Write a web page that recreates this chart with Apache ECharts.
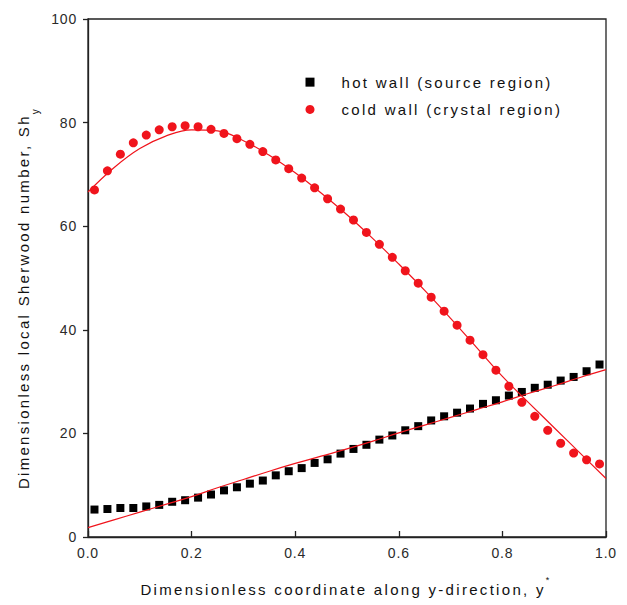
<!DOCTYPE html>
<html>
<head>
<meta charset="utf-8">
<script src="https://cdn.jsdelivr.net/npm/echarts@6/dist/echarts.min.js"></script>
<style>
  html, body { margin: 0; padding: 0; background: #fff; }
  #chart { width: 627px; height: 605px; }
  /* widely tracked lettering for titles and legend, slight tracking for tick labels */
  #chart text[style*="Liberation"], #chart text[font-family*="Liberation"] { letter-spacing: 2.3px; }
  #chart text[style*="Arial"], #chart text[font-family*="Arial"] { letter-spacing: 0.8px; }
</style>
</head>
<body>
<div id="chart"></div>
<script>
// Sample positions along the wall (dimensionless y*)
const positions = [
  0.0125, 0.0375, 0.0625, 0.0875, 0.1125, 0.1375, 0.1625, 0.1875, 0.2125, 0.2375,
  0.2625, 0.2875, 0.3125, 0.3375, 0.3625, 0.3875, 0.4125, 0.4375, 0.4625, 0.4875,
  0.5125, 0.5375, 0.5625, 0.5875, 0.6125, 0.6375, 0.6625, 0.6875, 0.7125, 0.7375,
  0.7625, 0.7875, 0.8125, 0.8375, 0.8625, 0.8875, 0.9125, 0.9375, 0.9625, 0.9875
];

// Local Sherwood number on the hot wall (source region)
const hotWall = [
  5.3, 5.4, 5.6, 5.6, 5.9, 6.2, 6.8, 7.1, 7.6, 8.2,
  9.0, 9.6, 10.3, 10.9, 11.9, 12.7, 13.3, 14.3, 15.0, 16.1,
  17.0, 17.8, 18.8, 19.6, 20.6, 21.4, 22.5, 23.3, 24.0, 24.8,
  25.7, 26.4, 27.3, 28.0, 28.8, 29.4, 30.2, 30.9, 32.0, 33.3
];

// Local Sherwood number on the cold wall (crystal region)
const coldWall = [
  67.0, 70.7, 73.9, 76.1, 77.6, 78.6, 79.2, 79.4, 79.2, 78.7,
  77.9, 76.9, 75.8, 74.4, 72.8, 71.1, 69.3, 67.4, 65.3, 63.3,
  61.2, 58.8, 56.5, 54.0, 51.4, 49.0, 46.3, 43.6, 40.9, 38.0,
  35.2, 32.2, 29.1, 26.0, 23.3, 20.6, 18.1, 16.2, 14.9, 14.1
];

// Correlation curves
const fitPositions = [
  0.00, 0.05, 0.10, 0.15, 0.20, 0.25, 0.30, 0.35, 0.40, 0.45, 0.50,
  0.55, 0.60, 0.65, 0.70, 0.75, 0.80, 0.85, 0.90, 0.95, 1.00
];
const hotFit = [
  1.8, 3.3, 4.8, 6.3, 7.8, 9.5, 11.1, 12.7, 14.2, 15.6, 17.0,
  18.5, 20.1, 21.6, 23.1, 24.6, 26.1, 27.7, 29.2, 30.8, 32.3
];
const coldFit = [
  66.6, 71.3, 75.0, 77.4, 78.6, 78.4, 76.5, 73.7, 70.3, 66.4, 62.2,
  57.6, 52.7, 47.6, 42.2, 36.6, 31.0, 26.0, 21.1, 16.2, 11.3
];

const hotName = 'hot wall (source region)';
const coldName = 'cold wall (crystal region)';
const xTitle = 'Dimensionless coordinate along y-direction, y';
const yTitle = 'Dimensionless local Sherwood number, Sh';

const RED = '#f0141c';
const INK = '#111';
const AXIS = '#222';

// Text measurement that includes the letter tracking applied in the stylesheet
const TRACKING = [['Liberation Sans', 2.3], ['Arial', 0.8]];
const measureCtx = document.createElement('canvas').getContext('2d');
if (echarts.setPlatformAPI) {
  echarts.setPlatformAPI({
    measureText(text, font) {
      measureCtx.font = font || '12px sans-serif';
      const m = measureCtx.measureText(text);
      let extra = 0;
      for (const [fam, sp] of TRACKING) {
        if ((font || '').indexOf(fam) >= 0) { extra = sp * text.length; break; }
      }
      return {
        width: m.width + extra,
        actualBoundingBoxAscent: m.actualBoundingBoxAscent,
        actualBoundingBoxDescent: m.actualBoundingBoxDescent,
        actualBoundingBoxLeft: m.actualBoundingBoxLeft,
        actualBoundingBoxRight: m.actualBoundingBoxRight + extra,
        fontBoundingBoxAscent: m.fontBoundingBoxAscent,
        fontBoundingBoxDescent: m.fontBoundingBoxDescent
      };
    }
  });
}

const chart = echarts.init(document.getElementById('chart'), null, { renderer: 'svg' });

const axisLine = { show: true, onZero: false, lineStyle: { color: AXIS, width: 1.3 } };
const tickLabel = { fontFamily: 'Arial', fontSize: 14, color: '#2a2a2a' };

chart.setOption({
  animation: false,
  backgroundColor: '#fff',
  grid: {
    left: 88, right: 21, top: 19, bottom: 68,
    show: true, borderColor: AXIS, borderWidth: 1.3, backgroundColor: 'transparent'
  },
  xAxis: {
    type: 'value', min: 0, max: 1, interval: 0.2,
    axisLine: axisLine,
    axisTick: { show: true, inside: true, length: 6, lineStyle: { color: AXIS, width: 1.3 } },
    axisLabel: Object.assign({ margin: 9, formatter: v => v.toFixed(1) }, tickLabel),
    splitLine: { show: false }
  },
  yAxis: {
    type: 'value', min: 0, max: 100, interval: 20,
    axisLine: axisLine,
    axisTick: { show: true, inside: false, length: 5, lineStyle: { color: AXIS, width: 1.3 } },
    axisLabel: Object.assign({ margin: 11 }, tickLabel),
    splitLine: { show: false }
  },
  legend: {
    orient: 'vertical',
    left: 305.5, top: 73.5, padding: 0, itemGap: 10,
    itemWidth: 9, itemHeight: 9,
    selectedMode: false,
    data: [{ name: hotName, icon: 'rect' }, { name: coldName, icon: 'circle' }],
    formatter: n => '{g| }{t|' + n + '}',
    textStyle: {
      fontFamily: 'Liberation Sans', fontSize: 15, color: INK,
      rich: {
        g: { width: 22, lineHeight: 15, fontFamily: 'Liberation Sans', fontSize: 15 },
        t: { lineHeight: 15, fontFamily: 'Liberation Sans', fontSize: 15, color: INK }
      }
    }
  },
  graphic: [
    {
      type: 'text', x: 346, y: 589, silent: true,
      style: {
        text: '{m|' + xTitle + '}{s|*}',
        align: 'center', verticalAlign: 'middle',
        rich: {
          m: { fontFamily: 'Liberation Sans', fontSize: 15, fill: INK, lineHeight: 29 },
          s: { fontFamily: 'Liberation Sans', fontSize: 9, fill: INK, lineHeight: 9, verticalAlign: 'top' }
        }
      }
    },
    {
      type: 'text', x: 23, y: 298, rotation: Math.PI / 2, silent: true,
      style: {
        text: '{m|' + yTitle + '}{s|y}',
        align: 'center', verticalAlign: 'middle',
        rich: {
          m: { fontFamily: 'Liberation Sans', fontSize: 15, fill: INK, lineHeight: 37 },
          s: { fontFamily: 'Liberation Sans', fontSize: 10, fill: INK, lineHeight: 10, verticalAlign: 'bottom' }
        }
      }
    }
  ],
  series: [
    {
      name: hotName, type: 'scatter', symbol: 'rect', symbolSize: 8, z: 2,
      itemStyle: { color: '#000', opacity: 1 },
      data: positions.map((x, i) => [x, hotWall[i]])
    },
    {
      name: coldName, type: 'scatter', symbol: 'circle', symbolSize: 9, z: 2,
      itemStyle: { color: RED, opacity: 1 },
      data: positions.map((x, i) => [x, coldWall[i]])
    },
    {
      name: 'hot wall fit', type: 'line', smooth: 0.4, showSymbol: false, symbol: 'none', z: 3, silent: true,
      lineStyle: { color: RED, width: 1.2 },
      data: fitPositions.map((x, i) => [x, hotFit[i]])
    },
    {
      name: 'cold wall fit', type: 'line', smooth: 0.4, showSymbol: false, symbol: 'none', z: 3, silent: true,
      lineStyle: { color: RED, width: 1.2 },
      data: fitPositions.map((x, i) => [x, coldFit[i]])
    }
  ]
});
</script>
</body>
</html>
